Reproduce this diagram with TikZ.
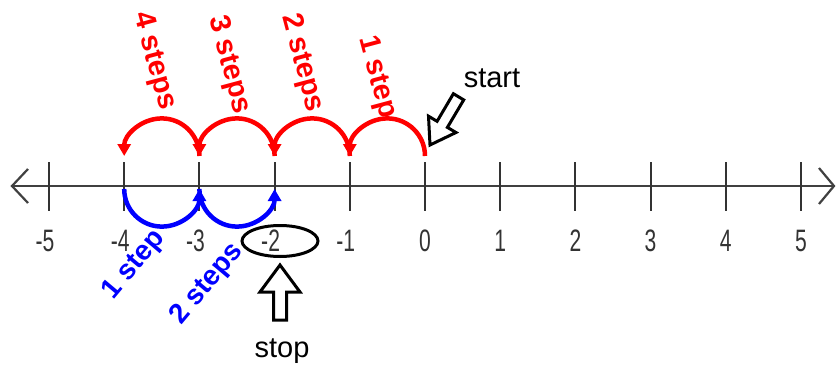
\documentclass[tikz,border=0pt]{standalone}
\usepackage{fontspec}
\setmainfont{Liberation Sans}
\usetikzlibrary{arrows.meta,shapes.geometric}
\begin{document}
\begin{tikzpicture}[x=1pt,y=1pt,
  axisline/.style={line width=2.2pt, draw=black!75},
  tickline/.style={line width=2pt, draw=black!80},
  numlab/.style={text=black!80, font=\fontsize{31}{31}\selectfont, inner sep=0pt},
  redarc/.style={draw=red, line width=4.5pt, -{Triangle[length=12pt,width=13pt]}},
  bluearc/.style={draw=blue, line width=4.5pt, -{Triangle[length=12pt,width=13pt]}},
  redlab/.style={text=red, font=\fontsize{29}{29}\selectfont\bfseries, rotate=-75, inner sep=0pt},
  bluelab/.style={text=blue, font=\fontsize{28}{28}\selectfont\bfseries, rotate=50, inner sep=0pt},
  plainlab/.style={text=black, font=\fontsize{29}{29}\selectfont, inner sep=0pt},
  blockarrow/.style={draw=black, line width=3pt, fill=white, line join=miter},
  ring/.style={draw=black, line width=3pt, ellipse, minimum width=76pt, minimum height=31pt, inner sep=0pt},
]
\useasboundingbox (0,0) rectangle (836,368);
% axis
\coordinate (L) at (12,182);
\coordinate (R) at (834,182);
\coordinate (La) at (28,199);
\coordinate (Lb) at (28,165);
\coordinate (Ra) at (819,200);
\coordinate (Rb) at (819,164);
\draw[axisline] (L) -- (R);
\draw[axisline] (La) -- (L) -- (Lb);
\draw[axisline] (Ra) -- (R) -- (Rb);
% ticks and labels
\foreach \k in {-5,...,5}{
  \pgfmathsetmacro\xx{425+75.2*\k}
  \pgfmathsetmacro\lx{425+75.2*\k-4*(\k<0)}
  \coordinate (tt\k) at (\xx,206);
  \coordinate (tb\k) at (\xx,157);
  \draw[tickline] (tt\k) -- (tb\k);
  \node[numlab] (n\k) at (\lx,127) {\scalebox{0.68}[1]{\k}};
}
% red arcs (above)
\foreach \k in {0,-1,-2,-3,-4}{
  \pgfmathsetmacro\xx{425+75.2*\k}
  \coordinate (r\k) at (\xx,212);
}
\draw[redarc] (r0) arc[start angle=0, end angle=180, radius=37.6];
\draw[redarc] (r-1) arc[start angle=0, end angle=180, radius=37.6];
\draw[redarc] (r-2) arc[start angle=0, end angle=180, radius=37.6];
\draw[redarc] (r-3) arc[start angle=0, end angle=180, radius=37.6];
% blue arcs (below)
\foreach \k in {-4,-3,-2}{
  \pgfmathsetmacro\xx{425+75.2*\k}
  \coordinate (b\k) at (\xx,179);
}
\draw[bluearc] (b-4) arc[start angle=180, end angle=360, radius=37.6];
\draw[bluearc] (b-3) arc[start angle=180, end angle=360, radius=37.6];
% red labels
\node[redlab] (l4) at (154,307) {4 steps};
\node[redlab] (l3) at (229,303) {3 steps};
\node[redlab] (l2) at (302,305) {2 steps};
\node[redlab] (l1) at (377,291) {1 step};
% blue labels
\node[bluelab] (m1) at (134,103) {1 step};
\node[bluelab] (m2) at (207,84) {2 steps};
% stop ring and arrow
\node[ring] (stopring) at (280,127) {};
\draw[blockarrow] (280,103) -- (300,76) -- (286.5,76) -- (286.5,48) -- (273.5,48) -- (273.5,76) -- (260,76) -- cycle;
\node[plainlab, anchor=base] (stop) at (282,11) {stop};
% start arrow and text
\draw[blockarrow] (430,223) -- (456.0,235.5) -- (447.4,240.6) -- (463.7,268.1) -- (453.4,274.3) -- (437.1,246.7) -- (428.5,251.8) -- cycle;
\node[plainlab, anchor=base] (start) at (492,281) {start};
\end{tikzpicture}
\end{document}
